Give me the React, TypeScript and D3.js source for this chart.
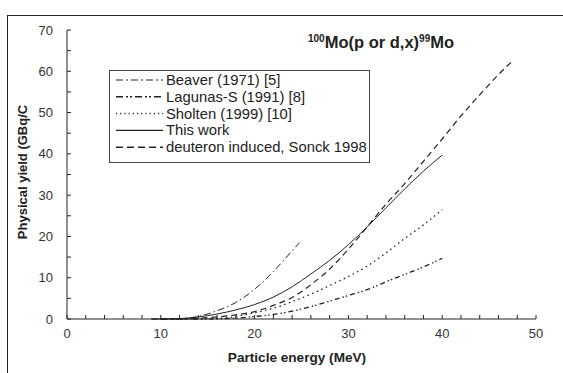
import React from "react";
import * as d3 from "d3";

// particle energy grid (MeV) per series, and yields (GBq/C)
const beaverE = [10, 12, 14, 16, 18, 20, 22, 24, 24.8];
const beaverY = [0, 0.1, 0.6, 2.0, 4.0, 7.2, 11.5, 16.5, 18.5];

const lagunasE = [10, 14, 16, 18, 20, 22, 24, 26, 28, 30, 32, 34, 36, 38, 40];
const lagunasY = [0, 0, 0.05, 0.2, 0.6, 1.1, 1.9, 3.0, 4.3, 5.7, 7.1, 9.0, 10.8, 12.6, 14.7];

const sholtenE = [10, 14, 16, 18, 20, 22, 24, 26, 28, 30, 32, 34, 36, 38, 40];
const sholtenY = [0, 0, 0.1, 0.6, 1.5, 2.6, 4.2, 6.0, 8.1, 10.3, 12.8, 16.0, 19.5, 22.8, 26.5];

const thisWorkE = [9, 12, 14, 16, 18, 20, 22, 24, 26, 28, 30, 32, 34, 36, 38, 40];
const thisWorkY = [0, 0.1, 0.5, 1.2, 2.2, 3.5, 5.3, 7.8, 10.9, 14.2, 18.0, 22.3, 26.9, 31.5, 35.8, 39.7];

const deutE = [9, 12, 14, 16, 18, 20, 22, 24, 26, 28, 30, 32, 34, 36, 38, 40, 42, 44, 46, 47.5];
const deutY = [0, 0, 0.2, 0.5, 1.0, 1.8, 3.3, 5.2, 8.3, 12.1, 16.9, 22.3, 27.8, 32.8, 38.2, 43.6, 49.2, 54.3, 59.2, 62.5];

const legendLabels = [
  "Beaver (1971) [5]",
  "Lagunas-S (1991) [8]",
  "Sholten (1999) [10]",
  "This work",
  "deuteron induced, Sonck 1998",
];
const xTicks = [0, 10, 20, 30, 40, 50];
const yTicks = [0, 10, 20, 30, 40, 50, 60, 70];

const series = [
  { e: beaverE, y: beaverY, dash: "7,3,1.5,3", legendDash: "7,3,2,3", w: 1 },
  { e: lagunasE, y: lagunasY, dash: "5,3,1.5,2,1.5,3", legendDash: "7,3,2,2,2,3", w: 1.3 },
  { e: sholtenE, y: sholtenY, dash: "1.5,3.5", legendDash: "1.2,3", w: 1.3 },
  { e: thisWorkE, y: thisWorkY, dash: "", legendDash: "", w: 1 },
  { e: deutE, y: deutY, dash: "6,4", legendDash: "7,4", w: 1.2 },
];

export default function App() {
  const W = 563;
  const H = 373;
  const x = d3.scaleLinear().domain([0, 50]).range([67, 536]);
  const y = d3.scaleLinear().domain([0, 70]).range([319, 30]);
  const line = d3
    .line<[number, number]>()
    .x((d) => x(d[0]))
    .y((d) => y(d[1]))
    .curve(d3.curveMonotoneX);

  const font = "Arial, 'Liberation Sans', sans-serif";
  const xMinor = d3.range(0, 51, 2);
  const yMinor = d3.range(0, 71, 5);

  return (
    <svg
      width={W}
      height={H}
      style={{ position: "absolute", left: 0, top: 0, background: "#fff" }}
      fontFamily={font}
    >
      {/* outer frame */}
      <rect x={7.5} y={15.5} width={W} height={H} fill="none" stroke="#222" strokeWidth={1} />

      {/* axes */}
      <line x1={x(0)} x2={x(0)} y1={y(70)} y2={y(0)} stroke="#222" />
      <line x1={x(0)} x2={x(50)} y1={y(0)} y2={y(0)} stroke="#222" />
      {xMinor.map((t) => (
        <line key={"xt" + t} x1={x(t)} x2={x(t)} y1={y(0)} y2={y(0) - 4} stroke="#222" />
      ))}
      {yMinor.map((t) => (
        <line key={"yt" + t} x1={x(0)} x2={x(0) + 4} y1={y(t)} y2={y(t)} stroke="#222" />
      ))}
      {xTicks.map((t) => (
        <text key={"xl" + t} x={x(t)} y={y(0) + 19} textAnchor="middle" fontSize={13} fill="#333">
          {t}
        </text>
      ))}
      {yTicks.map((t) => (
        <text key={"yl" + t} x={x(0) - 14} y={y(t) + 4.5} textAnchor="end" fontSize={13} fill="#333">
          {t}
        </text>
      ))}

      {/* axis titles */}
      <text x={297} y={362} textAnchor="middle" fontSize={13.6} fontWeight="bold" fill="#222">
        Particle energy (MeV)
      </text>
      <text
        transform={`translate(27,172) rotate(-90)`}
        textAnchor="middle"
        fontSize={13}
        fontWeight="bold"
        fill="#222"
      >
        Physical yield (GBq/C
      </text>

      {/* title */}
      <text x={308} y={48} fontSize={16.5} fontWeight="bold" fill="#222">
        <tspan fontSize={10} dy={-6}>100</tspan>
        <tspan dy={6}>Mo(p or d,x)</tspan>
        <tspan fontSize={10} dy={-6}>99</tspan>
        <tspan dy={6}>Mo</tspan>
      </text>

      {/* curves */}
      {series.map((s, i) => (
        <path
          key={"s" + i}
          d={line(s.e.map((e, j) => [e, s.y[j]] as [number, number])) || ""}
          fill="none"
          stroke="#222"
          strokeWidth={s.w}
          strokeDasharray={s.dash || undefined}
        />
      ))}

      {/* legend */}
      <rect x={109.5} y={70.5} width={260} height={92} fill="#fff" stroke="#444" strokeWidth={1} />
      {legendLabels.map((lab, i) => {
        const ry = 80 + i * 16.8;
        return (
          <g key={"lg" + i}>
            <line
              x1={116}
              x2={163}
              y1={ry}
              y2={ry}
              stroke="#222"
              strokeWidth={series[i].w + 0.2}
              strokeDasharray={series[i].legendDash || undefined}
            />
            <text x={166} y={ry + 5} fontSize={14.8} fill="#222">
              {lab}
            </text>
          </g>
        );
      })}
    </svg>
  );
}
